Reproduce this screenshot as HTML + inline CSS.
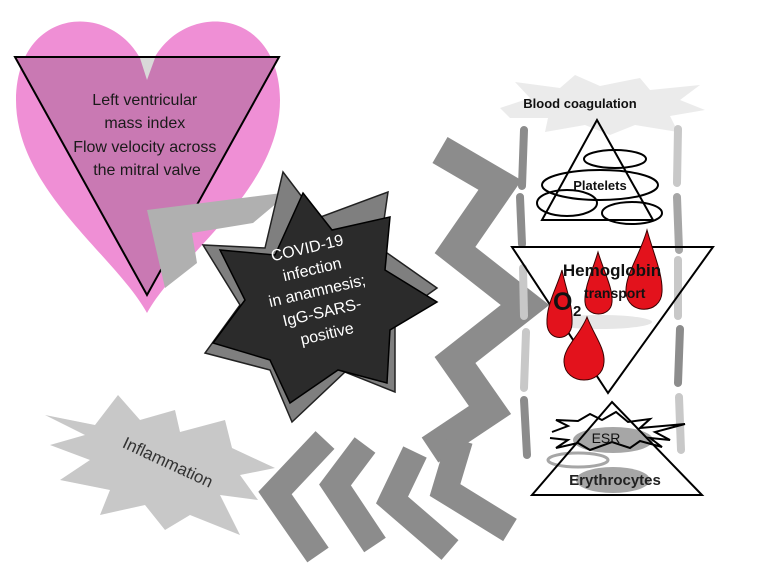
<!DOCTYPE html>
<html><head><meta charset="utf-8"><style>
html,body{margin:0;padding:0;background:#fff;}
svg{display:block;font-family:"Liberation Sans",sans-serif;}
</style></head><body>
<svg width="757" height="571" viewBox="0 0 757 571" xmlns="http://www.w3.org/2000/svg">
<!-- Heart -->
<path d="M147,75 C125,0 17,0 16,100 C16,190 115,255 147,313 C179,255 280,190 280,100 C279,0 170,0 147,75 Z" fill="#ef8fd5"/>
<polygon points="15,57 279,57 147,295" fill="#c979b3" stroke="#000" stroke-width="2"/>
<polygon points="140,58 155,58 147,80" fill="#d9d9d9"/>
<text font-size="16" fill="#1a1a1a" text-anchor="middle">
<tspan x="147" y="105">Left ventricular</tspan>
<tspan x="147" y="128">mass index</tspan>
<tspan x="147" y="152">Flow velocity across</tspan>
<tspan x="147" y="175">the mitral valve</tspan>
</text>
<!-- arrow star->heart -->
<polygon points="290,192 253,223 192,233 197,263 165,288 147,210" fill="#b0b0b0"/>
<!-- Star back -->
<polygon points="283,172 318,218 388,192 380,248 437,288 395,318 395,392 345,372 292,422 270,370 205,353 240,305 203,245 265,248" fill="#7f7f7f" stroke="#222" stroke-width="1.5"/>
<!-- Star front -->
<polygon points="303,193 332,230 390,217 385,270 437,302 390,330 387,383 338,370 290,403 270,360 213,343 245,300 220,250 275,255" fill="#2b2b2b" stroke="#000" stroke-width="1.5"/>
<g transform="rotate(-13 318 295)" font-size="16" fill="#fff" text-anchor="middle">
<text x="318" y="252">COVID-19</text>
<text x="318" y="274">infection</text>
<text x="318" y="296">in anamnesis;</text>
<text x="318" y="318">IgG-SARS-</text>
<text x="318" y="340">positive</text>
</g>
<!-- zigzag -->
<polyline points="440,150 500,185 455,250 525,305 455,360 490,410 430,450" fill="none" stroke="#8c8c8c" stroke-width="30" stroke-linejoin="miter" stroke-miterlimit="10"/>
<!-- chevrons -->
<g fill="none" stroke="#8c8c8c" stroke-width="26" stroke-linejoin="miter" stroke-miterlimit="10">
<polyline points="325,440 275,493 318,555"/>
<polyline points="365,445 335,485 375,545"/>
<polyline points="415,452 392,500 450,550"/>
<polyline points="460,440 445,490 510,530"/>
</g>
<!-- Inflammation -->
<polygon points="45,415 95,425 118,395 140,420 175,410 180,432 225,420 232,448 275,468 240,475 258,500 220,495 240,535 190,515 165,530 145,505 100,515 110,490 60,480 90,460 50,445 85,435" fill="#c8c8c8"/>
<text transform="rotate(25 168 462)" x="168" y="468" font-size="17" fill="#333" text-anchor="middle">Inflammation</text>
<!-- Blood coagulation burst -->
<polygon points="500,108 530,98 515,82 560,88 575,75 600,86 640,78 650,90 700,85 680,100 705,110 670,116 678,132 635,125 610,135 585,125 545,132 548,118 510,118" fill="#ebebeb"/>
<text x="580" y="108" font-size="13" font-weight="bold" text-anchor="middle" fill="#111">Blood coagulation</text>
<!-- dashes -->
<g stroke-width="8" stroke-linecap="round">
<line x1="524" y1="130" x2="522" y2="186" stroke="#8c8c8c"/>
<line x1="520" y1="197" x2="522" y2="244" stroke="#8c8c8c"/>
<line x1="523" y1="268" x2="524" y2="316" stroke="#c8c8c8"/>
<line x1="526" y1="332" x2="524" y2="388" stroke="#c8c8c8"/>
<line x1="524" y1="400" x2="527" y2="455" stroke="#8c8c8c"/>
<line x1="678" y1="129" x2="677" y2="183" stroke="#c8c8c8"/>
<line x1="677" y1="197" x2="679" y2="250" stroke="#a6a6a6"/>
<line x1="678" y1="260" x2="678" y2="316" stroke="#c8c8c8"/>
<line x1="680" y1="329" x2="678" y2="383" stroke="#8c8c8c"/>
<line x1="679" y1="397" x2="681" y2="450" stroke="#c8c8c8"/>
</g>
<!-- Platelets -->
<g fill="none" stroke="#000" stroke-width="2">
<ellipse cx="615" cy="159" rx="31" ry="9"/>
<ellipse cx="600" cy="185" rx="58" ry="15"/>
<ellipse cx="567" cy="203" rx="30" ry="13"/>
<ellipse cx="632" cy="213" rx="30" ry="11"/>
<polygon points="597,120 542,220 653,220"/>
</g>
<text x="600" y="190" font-size="13" font-weight="bold" text-anchor="middle" fill="#111">Platelets</text>
<!-- Hemoglobin -->
<polygon points="512,247 713,247 608,393" fill="none" stroke="#000" stroke-width="2"/>
<ellipse cx="600" cy="322" rx="52" ry="7" fill="#e6e6e6"/>
<g fill="#e3121c" stroke="#3a0000" stroke-width="1">
<path d="M562,270 C556,290 546,305 547,324 C548,342 571,342 572,324 C573,305 566,290 562,270 Z"/>
<path d="M598,252 C592,272 584,288 585,302 C586,318 611,318 612,302 C613,288 604,272 598,252 Z"/>
<path d="M647,230 C640,255 625,275 626,292 C627,315 661,315 662,292 C663,275 654,255 647,230 Z"/>
<path d="M587,317 C580,335 563,348 564,362 C565,386 603,386 604,362 C605,348 594,335 587,317 Z"/>
</g>
<text x="612" y="276" font-size="17" font-weight="bold" text-anchor="middle" fill="#111">Hemoglobin</text>
<text x="553" y="310" font-size="25" font-weight="bold" fill="#111">O</text>
<text x="573" y="316" font-size="15" font-weight="bold" fill="#111">2</text>
<text x="584" y="298" font-size="14" font-weight="bold" fill="#111">transport</text>
<!-- ESR -->
<ellipse cx="613" cy="440" rx="40" ry="13" fill="#a6a6a6"/>
<ellipse cx="578" cy="460" rx="30" ry="7" fill="none" stroke="#a6a6a6" stroke-width="3"/>
<ellipse cx="613" cy="480" rx="37" ry="13" fill="#a6a6a6"/>
<polyline points="552,432 568,426 556,420 578,421 590,414 602,420 616,412 628,422 650,419 640,428 685,424 655,432 670,440 650,438 662,447 640,441 630,448 612,442 590,450 578,443 556,448 568,440 550,438" fill="none" stroke="#000" stroke-width="2"/>
<polygon points="612,402 532,495 702,495" fill="none" stroke="#000" stroke-width="2"/>
<text x="606" y="443" font-size="14" text-anchor="middle" fill="#111">ESR</text>
<text x="615" y="485" font-size="15" font-weight="bold" text-anchor="middle" fill="#222">Erythrocytes</text>
</svg>
</body></html>
